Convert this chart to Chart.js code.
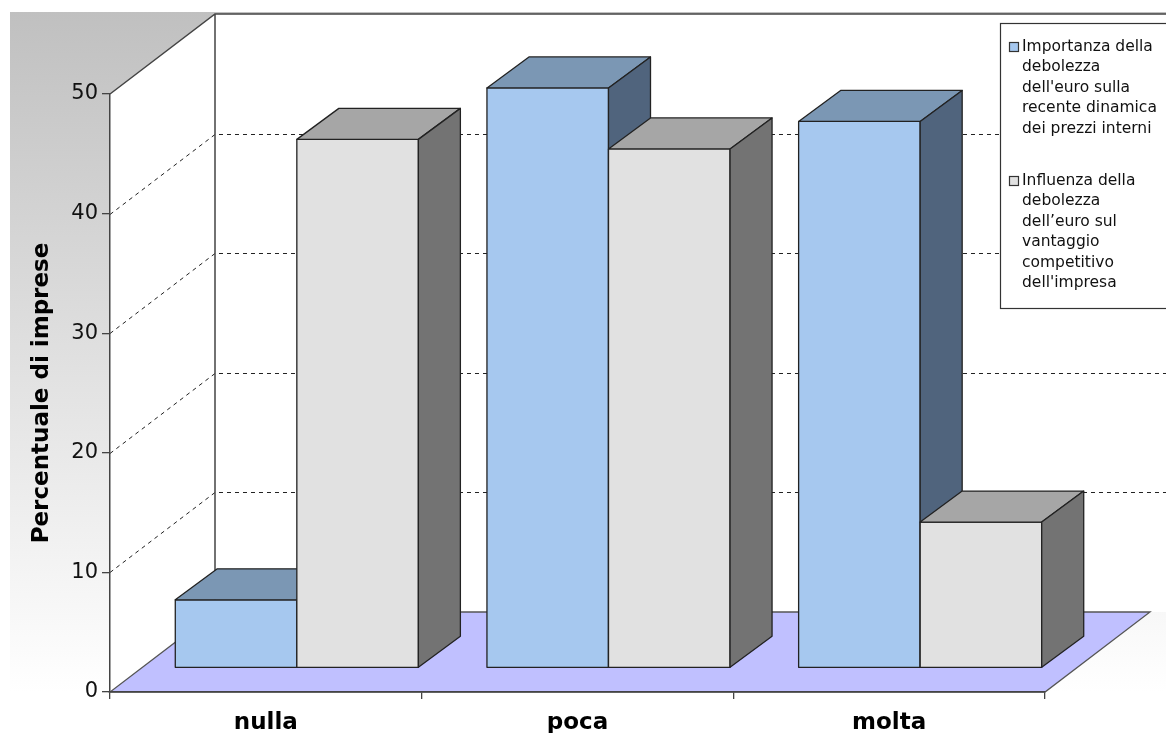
<!DOCTYPE html>
<html>
<head>
<meta charset="utf-8">
<script src="https://cdn.jsdelivr.net/npm/chart.js@4"></script>
<style>
  body { margin: 0; background: #fff; }
</style>
</head>
<body>
<canvas id="chart" width="1166" height="733"></canvas>
<script>
const categories = ["nulla", "poca", "molta"]
const importanza = [5.7, 48.5, 45.7]
const influenza = [44.2, 43.4, 12.2]
const yTicks = [0, 10, 20, 30, 40, 50]
const legendImportanza = ["Importanza della", "debolezza", "dell'euro sulla", "recente dinamica", "dei prezzi interni"]
const legendInfluenza = ["Influenza della", "debolezza", "dell\u2019euro sul", "vantaggio", "competitivo", "dell'impresa"]

// front, top, side
const shades = [
    ["#a6c8ef", "#7b97b4", "#50647d"],
    ["#e1e1e1", "#a6a6a6", "#737373"]
]
const depth = { dx: 105, dy: -80 }     // back wall offset
const barFront = { dx: 31, dy: -24 }   // front face of the bars
const barDepth = { dx: 42, dy: -31 }   // bar thickness

function poly(ctx, pts, fill) {
    ctx.beginPath()
    ctx.moveTo(pts[0][0], pts[0][1])
    pts.slice(1).forEach(p => ctx.lineTo(p[0], p[1]))
    ctx.closePath()
    if (fill) { ctx.fillStyle = fill; ctx.fill() }
    ctx.stroke()
}

const box3d = {
    id: "box3d",
    beforeDraw(chart) {
        const { ctx, chartArea: a, scales: { y } } = chart
        const W = chart.width
        const bl = a.left + depth.dx, bt = a.top + depth.dy, bb = a.bottom + depth.dy
        ctx.save()
        const g = ctx.createLinearGradient(0, 12, 0, a.bottom)
        g.addColorStop(0, "#c0c0c0")
        g.addColorStop(1, "#ffffff")
        ctx.fillStyle = g
        ctx.fillRect(10, 12, W - 10, a.bottom - 12)

        // walls
        ctx.fillStyle = "#fff"
        ctx.beginPath()
        ctx.moveTo(a.left, a.bottom)
        ctx.lineTo(a.left, a.top)
        ctx.lineTo(bl, bt)
        ctx.lineTo(W + 5, bt)
        ctx.lineTo(W + 5, bb)
        ctx.lineTo(bl, bb)
        ctx.closePath()
        ctx.fill()

        // floor
        ctx.strokeStyle = "#555"
        ctx.lineWidth = 1.3
        poly(ctx, [[a.left, a.bottom], [a.right, a.bottom], [a.right + depth.dx, bb], [bl, bb]], "#c0c0ff")

        // dashed grid on the walls
        ctx.strokeStyle = "#222"
        ctx.lineWidth = 1
        ctx.setLineDash([4, 4])
        yTicks.filter(v => v > 0 && v < 50).forEach(v => {
            const yf = Math.round(y.getPixelForValue(v)) + 0.5
            ctx.beginPath()
            ctx.moveTo(a.left, yf)
            ctx.lineTo(bl, yf + depth.dy)
            ctx.lineTo(W, yf + depth.dy)
            ctx.stroke()
        })
        ctx.setLineDash([])
        ctx.strokeStyle = "#444"
        ctx.lineWidth = 1.5
        ctx.beginPath()
        ctx.moveTo(a.left, a.top)
        ctx.lineTo(bl, bt)
        ctx.lineTo(W, bt)
        ctx.moveTo(bl, bt)
        ctx.lineTo(bl, bb)
        ctx.stroke()
        ctx.restore()
    },
    beforeDatasetsDraw(chart) {
        const ctx = chart.ctx
        ctx.save()
        ctx.strokeStyle = "#222"
        ctx.lineWidth = 1.3
        ctx.lineJoin = "round"
        const metas = chart.data.datasets.map((d, k) => chart.getDatasetMeta(k))
        for (let i = 0; i < chart.data.labels.length; i++) {
            metas.forEach((meta, k) => {
                const { x, y, base, width } = meta.data[i].getProps(["x", "y", "base", "width"], true)
                const l = x - width / 2 + barFront.dx, r = x + width / 2 + barFront.dx
                const t = y + barFront.dy, b = base + barFront.dy
                const dx = barDepth.dx, dy = barDepth.dy
                poly(ctx, [[l, t], [r, t], [r, b], [l, b]], shades[k][0])
                poly(ctx, [[l, t], [l + dx, t + dy], [r + dx, t + dy], [r, t]], shades[k][1])
                poly(ctx, [[r, t], [r + dx, t + dy], [r + dx, b + dy], [r, b]], shades[k][2])
            })
        }
        ctx.restore()
        return false
    },
    afterDraw(chart) {
        const ctx = chart.ctx
        ctx.save()
        ctx.fillStyle = "#fff"
        ctx.strokeStyle = "#333"
        ctx.lineWidth = 1.2
        ctx.fillRect(1000.5, 23.5, 170, 285)
        ctx.strokeRect(1000.5, 23.5, 170, 285)
        ctx.font = "15.5px 'DejaVu Sans'"
        ctx.textBaseline = "middle"
        const groups = [[legendImportanza, 47], [legendInfluenza, 181]]
        groups.forEach(([lines, y0], k) => {
            ctx.fillStyle = shades[k][0]
            ctx.fillRect(1009.5, y0 - 4.5, 9, 9)
            ctx.strokeRect(1009.5, y0 - 4.5, 9, 9)
            ctx.fillStyle = "#111"
            lines.forEach((s, j) => ctx.fillText(s, 1022, y0 + j * 20.4))
        })
        ctx.restore()
    }
}

new Chart(document.getElementById("chart"), {
    type: "bar",
    data: {
        labels: categories,
        datasets: [
            { label: legendImportanza.join(" "), data: importanza, backgroundColor: shades[0][0] },
            { label: legendInfluenza.join(" "), data: influenza, backgroundColor: shades[1][0] }
        ]
    },
    options: {
        responsive: false,
        animation: false,
        events: [],
        categoryPercentage: 0.78,
        barPercentage: 1,
        layout: { padding: { top: 94, right: 121, left: 0, bottom: 0 } },
        plugins: {
            legend: { display: false },
            tooltip: { enabled: false }
        },
        scales: {
            x: {
                afterFit: s => { s.height = 41 },
                border: { color: "#444", width: 1.5 },
                grid: { drawOnChartArea: false, drawTicks: true, tickLength: 7, color: "#444", lineWidth: 1.3 },
                ticks: { color: "#000", padding: 10, font: { family: "'DejaVu Sans'", size: 23, weight: "bold" } }
            },
            y: {
                min: 0,
                max: 50,
                afterFit: s => { s.width = 110 },
                border: { color: "#444", width: 1.5 },
                grid: { drawOnChartArea: false, drawTicks: true, tickLength: 8, color: "#444", lineWidth: 1.3 },
                ticks: { stepSize: 10, color: "#111", padding: 4, font: { family: "'DejaVu Sans'", size: 21 } },
                title: {
                    display: true,
                    text: "Percentuale di imprese",
                    color: "#000",
                    padding: { top: 28, bottom: 0 },
                    font: { family: "'DejaVu Sans'", size: 23, weight: "bold" }
                }
            }
        }
    },
    plugins: [box3d]
})
</script>
</body>
</html>
